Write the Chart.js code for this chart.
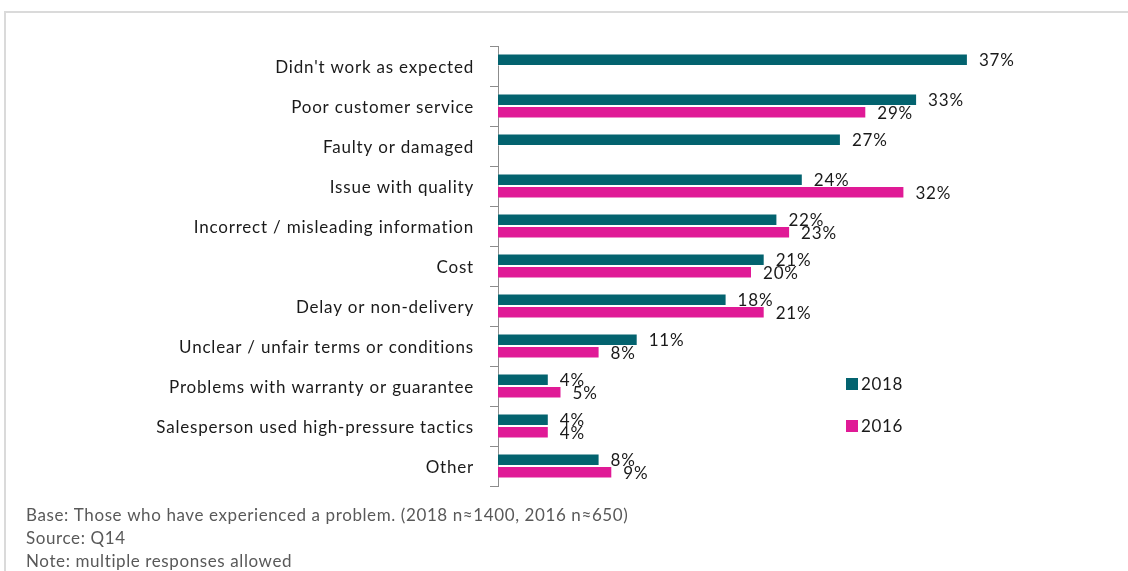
<!DOCTYPE html>
<html>
<head>
<meta charset="utf-8">
<script src="https://cdn.jsdelivr.net/npm/chart.js@4.4.0/dist/chart.umd.min.js"></script>
<style>
  html, body { margin: 0; padding: 0; background: #fff; overflow: hidden; }
  #frame { position: absolute; left: 4px; top: 11px; width: 1200px; height: 600px; border: 2px solid #dadada; }
  #wrap { position: absolute; left: 0; top: 0; width: 1128px; height: 571px; }
</style>
</head>
<body>
<div id="frame"></div>
<div id="wrap"><canvas id="myChart" width="1128" height="571"></canvas></div>
<script>
const ctx = document.getElementById('myChart');

// Reasons for the problem, top to bottom
const categories = [
  "Didn't work as expected",
  'Poor customer service',
  'Faulty or damaged',
  'Issue with quality',
  'Incorrect / misleading information',
  'Cost',
  'Delay or non-delivery',
  'Unclear / unfair terms or conditions',
  'Problems with warranty or guarantee',
  'Salesperson used high-pressure tactics',
  'Other'
];

// Percent of respondents per year (null = not asked that year)
const values2018 = [37, 33, 27, 24, 22, 21, 18, 11, 4, 4, 8];
const values2016 = [null, 29, null, 32, 23, 20, 21, 8, 5, 4, 9];

const notes = [
  'Base: Those who have experienced a problem. (2018 n\u22481400, 2016 n\u2248650)',
  'Source: Q14',
  'Note: multiple responses allowed'
];

const teal = '#03636F';
const pink = '#E01A96';
const font = 'Lato, "Noto Sans", sans-serif';

// slightly looser tracking for the axis labels
const tracking = {
  id: 'tracking',
  beforeDraw(chart) { chart.ctx.letterSpacing = '0.8px'; }
};

// percent labels at the end of each bar
const valueLabels = {
  id: 'valueLabels',
  afterDatasetsDraw(chart) {
    const c = chart.ctx;
    c.save();
    c.letterSpacing = '0.8px';
    c.font = '17px ' + font;
    c.fillStyle = '#1a1a1a';
    c.textBaseline = 'middle';
    c.textAlign = 'left';
    chart.data.datasets.forEach((ds, i) => {
      chart.getDatasetMeta(i).data.forEach((bar, j) => {
        const v = ds.data[j];
        if (v === null) return;
        c.fillText(v + '%', bar.x + 11, bar.y + 1);
      });
    });
    c.restore();
  }
};

// legend sits inside the plot, near the lower right
const insideLegend = {
  id: 'insideLegend',
  afterDraw(chart) {
    const c = chart.ctx;
    const a = chart.chartArea;
    c.save();
    c.letterSpacing = '0.6px';
    c.font = '17px ' + font;
    c.textBaseline = 'middle';
    chart.data.datasets.forEach((ds, i) => {
      const y = a.top + 338 + i * 42;
      c.fillStyle = ds.backgroundColor;
      c.fillRect(a.left + 348, y - 6, 12, 12);
      c.fillStyle = '#1a1a1a';
      c.fillText(ds.label, a.left + 363, y + 1);
    });
    c.restore();
  }
};

// footnotes under the chart
const footnotes = {
  id: 'footnotes',
  afterDraw(chart) {
    const c = chart.ctx;
    c.save();
    c.letterSpacing = '0.6px';
    c.font = '17px ' + font;
    c.fillStyle = '#595959';
    c.textBaseline = 'middle';
    notes.forEach((t, i) => c.fillText(t, 26, chart.chartArea.bottom + 30 + i * 23));
    c.restore();
  }
};

new Chart(ctx, {
  type: 'bar',
  data: {
    labels: categories,
    datasets: [
      { label: '2018', data: values2018, backgroundColor: teal, borderColor: 'rgba(255,255,255,0.35)', borderWidth: 1 },
      { label: '2016', data: values2016, backgroundColor: pink, borderColor: 'rgba(255,255,255,0.35)', borderWidth: 1 }
    ]
  },
  options: {
    indexAxis: 'y',
    responsive: false,
    devicePixelRatio: 1,
    animation: false,
    layout: { padding: { top: 46, bottom: 85, left: 26, right: 122 } },
    datasets: { bar: { categoryPercentage: 0.625, barPercentage: 1 } },
    plugins: {
      legend: { display: false },
      tooltip: { enabled: false }
    },
    scales: {
      x: { display: false, min: 0, max: 40 },
      y: {
        afterFit(scale) { scale.width = 472; },
        border: { display: true, color: '#8c8c8c', width: 1 },
        grid: { drawOnChartArea: false, drawTicks: true, tickLength: 8, color: '#8c8c8c', offset: true },
        ticks: { color: '#1a1a1a', padding: 16, labelOffset: 2, font: { family: font, size: 17 } }
      }
    }
  },
  plugins: [tracking, valueLabels, insideLegend, footnotes]
});
</script>
</body>
</html>
